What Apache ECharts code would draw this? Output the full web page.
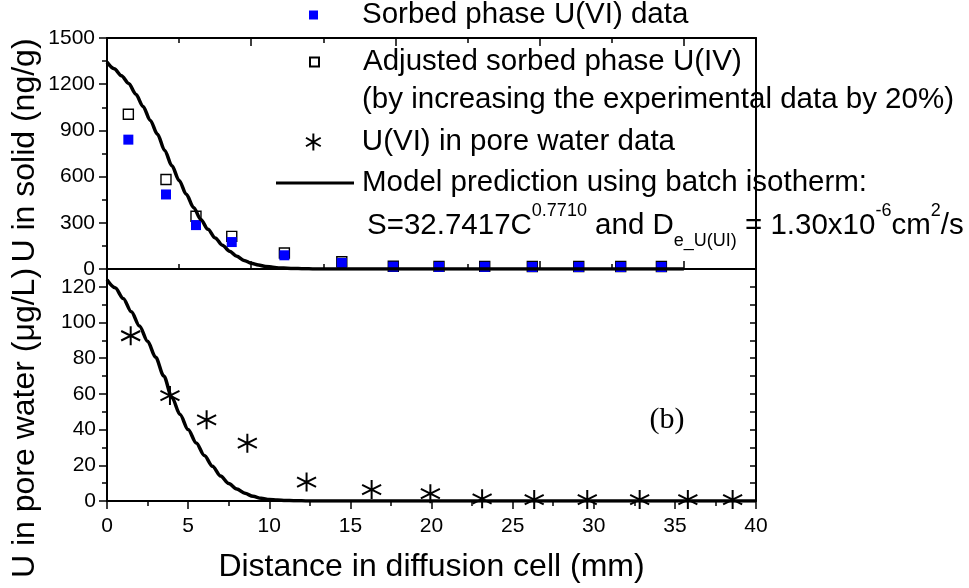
<!DOCTYPE html>
<html>
<head>
<meta charset="utf-8">
<title>U profile in diffusion cell</title>
<script src="https://cdn.jsdelivr.net/npm/echarts/dist/echarts.min.js"></script>
<style>
    html, body { margin: 0; padding: 0; background: #fff; }
    #chart { width: 969px; height: 588px; }
</style>
</head>
<body>
<div id="chart"></div>
<script>
// 固相数据 (上图, 横坐标 mm)
var sorbedX = [1.48, 4.09, 6.17, 8.65, 12.30, 16.28, 19.85, 23.02, 26.19, 29.49, 32.71, 35.62, 38.44];
var sorbedU = [840, 484, 285, 175, 89, 39, 15, 14, 14, 13, 13, 13, 13];
var adjustedU = [1005, 581, 343, 212, 104, 47, 18, 17, 17, 16, 16, 16, 16];

// 孔隙水数据 (下图)
var poreX = [1.46, 3.88, 6.14, 8.65, 12.3, 16.31, 19.93, 23.12, 26.33, 29.6, 32.83, 35.8, 38.56];
var poreU = [92.6, 59.1, 45.5, 32.4, 10.6, 6.4, 4.1, 1.2, 0.8, 0.8, 0.8, 0.8, 0.8];

// 模型曲线
var modelX = [0, 0.5, 1, 1.5, 2, 2.5, 3, 3.5, 4, 4.5, 5, 5.5, 6, 6.5, 7, 7.5, 8, 8.5, 9, 9.5,
    10, 10.5, 11, 11.5, 12, 12.5, 13, 13.5, 14, 14.5, 15, 20, 25, 30, 35, 40];
var modelSolid = [1343, 1300, 1255, 1205, 1135, 1055, 965, 875, 770, 670, 575, 485, 400, 322, 258, 202, 155, 115, 82, 56,
    38, 26, 17, 11, 7, 5, 3, 2, 1, 0.5, 0, 0, 0, 0, 0, 0];
var modelPore = [124, 119.5, 113.5, 106, 98, 89.5, 80.5, 70, 58, 48.5, 40, 32.5, 25.5, 19.5, 14, 9.8, 6.7, 4.3, 2.6, 1.5,
    0.8, 0.5, 0.3, 0.2, 0.1, 0, 0, 0, 0, 0, 0, 0, 0, 0, 0, 0];

// 刻度
var solidTicks = [0, 300, 600, 900, 1200, 1500];
var poreTicks = [0, 20, 40, 60, 80, 100, 120];
var distTicks = [0, 5, 10, 15, 20, 25, 30, 35, 40];

var FONT = 'Liberation Sans, Arial, sans-serif';
var asteriskPath = 'path://M0,-10L0,10M-8.66,-5L8.66,5M-8.66,5L8.66,-5';

function pairs(xs, ys) {
    var out = [];
    for (var i = 0; i < xs.length; i++) {
        out.push([xs[i], ys[i]]);
    }
    return out;
}

// 不要千位分隔符
function plainLabel(ticks) {
    return function (v) {
        return ticks.indexOf(v) >= 0 ? String(v) : '';
    };
}

var blackLine = { color: '#000', width: 2 };
var tickLine = { color: '#000', width: 1.5 };

function chartRender() {
    var chart = echarts.init(document.getElementById('chart'));

    var option = {
        animation: false,
        backgroundColor: '#fff',
        textStyle: { fontFamily: FONT, color: '#000' },
        grid: [
            { left: 107, top: 38, width: 649, height: 231 },
            { left: 107, top: 269, width: 649, height: 232 }
        ],
        xAxis: [
            // 上图 底边
            {
                gridIndex: 0, type: 'value', min: 0, max: 45, interval: 10, position: 'bottom',
                axisLine: { onZero: false, lineStyle: blackLine },
                axisTick: { inside: true, length: 8, lineStyle: tickLine },
                minorTick: { show: true, splitNumber: 2, length: 5, lineStyle: tickLine },
                axisLabel: { show: false },
                splitLine: { show: false }
            },
            // 上图 顶边
            {
                gridIndex: 0, type: 'value', min: 0, max: 45, interval: 10, position: 'top',
                axisLine: { onZero: false, lineStyle: blackLine },
                axisTick: { inside: true, length: 8, lineStyle: tickLine },
                minorTick: { show: true, splitNumber: 2, length: 5, lineStyle: tickLine },
                axisLabel: { show: false },
                splitLine: { show: false }
            },
            // 下图 底边
            {
                gridIndex: 1, type: 'value', min: distTicks[0], max: distTicks[distTicks.length - 1], interval: 5,
                position: 'bottom',
                name: 'Distance in diffusion cell (mm)',
                nameLocation: 'middle',
                nameGap: 50,
                nameMoveOverlap: false,
                nameTextStyle: { fontSize: 32, color: '#000', fontFamily: FONT },
                axisLine: { onZero: false, lineStyle: blackLine },
                axisTick: { inside: false, length: 8, lineStyle: tickLine },
                minorTick: { show: true, splitNumber: 2, length: 5, lineStyle: tickLine },
                axisLabel: { fontSize: 21, color: '#000', margin: 15, fontFamily: FONT, formatter: plainLabel(distTicks) },
                splitLine: { show: false }
            },
            // 下图 顶边
            {
                gridIndex: 1, type: 'value', min: 0, max: 40, position: 'top',
                axisLine: { onZero: false, lineStyle: blackLine },
                axisTick: { show: false },
                axisLabel: { show: false },
                splitLine: { show: false }
            }
        ],
        yAxis: [
            {
                gridIndex: 0, type: 'value', min: solidTicks[0], max: solidTicks[solidTicks.length - 1], interval: 300,
                position: 'left',
                name: 'U in solid (ng/g)',
                nameLocation: 'middle',
                nameGap: 66,
                nameMoveOverlap: false,
                nameTextStyle: { fontSize: 32, color: '#000', fontFamily: FONT, padding: [0, 0, 0, 6] },
                axisLine: { onZero: false, lineStyle: blackLine },
                axisTick: { inside: false, length: 8, lineStyle: tickLine },
                minorTick: { show: true, splitNumber: 2, length: 5, lineStyle: tickLine },
                axisLabel: { fontSize: 21, color: '#000', margin: 12, fontFamily: FONT, formatter: plainLabel(solidTicks) },
                splitLine: { show: false }
            },
            {
                gridIndex: 0, type: 'value', min: 0, max: 1500, position: 'right',
                axisLine: { onZero: false, lineStyle: blackLine },
                axisTick: { show: false },
                axisLabel: { show: false },
                splitLine: { show: false }
            },
            {
                gridIndex: 1, type: 'value', min: poreTicks[0], max: 130, interval: 20,
                position: 'left',
                name: 'U in pore water (\u03bcg/L)',
                nameLocation: 'middle',
                nameGap: 66,
                nameMoveOverlap: false,
                nameTextStyle: { fontSize: 32, color: '#000', fontFamily: FONT, padding: [0, 76, 0, 0] },
                axisLine: { onZero: false, lineStyle: blackLine },
                axisTick: { inside: false, length: 8, lineStyle: tickLine },
                minorTick: { show: true, splitNumber: 2, length: 5, lineStyle: tickLine },
                axisLabel: {
                    fontSize: 21, color: '#000', margin: 11, fontFamily: FONT, showMaxLabel: false,
                    formatter: plainLabel(poreTicks)
                },
                splitLine: { show: false }
            },
            {
                gridIndex: 1, type: 'value', min: 0, max: 130, interval: 10, position: 'right',
                axisLine: { onZero: false, lineStyle: blackLine },
                axisTick: { inside: true, length: 6, lineStyle: tickLine },
                axisLabel: { show: false },
                splitLine: { show: false }
            }
        ],
        legend: [
            {
                data: [{ name: 'Sorbed phase U(VI) data', icon: 'rect' }],
                left: 309, top: 0, itemWidth: 9, itemHeight: 9, padding: 0, selectedMode: false,
                textStyle: { fontSize: 29.5, color: '#000', fontFamily: FONT, padding: [0, 0, 0, 39] }
            },
            {
                data: [{ name: 'Adjusted sorbed phase U(IV)', icon: 'rect' }],
                left: 309, top: 47, itemWidth: 9, itemHeight: 9, padding: 0, selectedMode: false,
                textStyle: { fontSize: 29.5, color: '#000', fontFamily: FONT, padding: [0, 0, 0, 39] }
            },
            {
                data: [{ name: 'U(VI) in pore water data', icon: asteriskPath }],
                left: 305, top: 127, itemWidth: 17, itemHeight: 17, padding: 0, selectedMode: false,
                textStyle: { fontSize: 29.5, color: '#000', fontFamily: FONT, padding: [0, 0, 0, 35] }
            },
            {
                data: [{ name: 'Model prediction using batch isotherm:', icon: 'rect' }],
                left: 276, top: 168, itemWidth: 78, itemHeight: 3, padding: 0, selectedMode: false,
                textStyle: { fontSize: 29.5, color: '#000', fontFamily: FONT, padding: [0, 0, 0, 3] }
            }
        ],
        graphic: [
            {
                type: 'text', x: 362, y: 100, z: 10,
                style: {
                    text: '(by increasing the experimental data by 20%)',
                    fontSize: 29.5, fontFamily: FONT, fill: '#000', verticalAlign: 'middle'
                }
            },
            {
                type: 'text', x: 367, y: 226, z: 10,
                style: {
                    text: '{b|S=32.7417C}{p|0.7710}{b| and D}{s|e_U(UI)}{b| = 1.30x10}{p|-6}{b|cm}{p|2}{b|/s}',
                    verticalAlign: 'middle',
                    fill: '#000',
                    rich: {
                        b: { fontSize: 29.5, lineHeight: 48, verticalAlign: 'middle', fontFamily: FONT, fill: '#000' },
                        p: { fontSize: 18, lineHeight: 16, verticalAlign: 'top', fontFamily: FONT, fill: '#000' },
                        s: { fontSize: 18, lineHeight: 18, verticalAlign: 'bottom', fontFamily: FONT, fill: '#000' }
                    }
                }
            },
            {
                type: 'text', x: 667, y: 420, z: 10,
                style: {
                    text: '(b)', fontSize: 30, fontFamily: 'Liberation Serif, Times New Roman, serif',
                    fill: '#000', align: 'center', verticalAlign: 'middle'
                }
            }
        ],
        series: [
            {
                name: 'Adjusted sorbed phase U(IV)',
                type: 'scatter', xAxisIndex: 0, yAxisIndex: 0,
                symbol: 'rect', symbolSize: 10,
                itemStyle: { color: '#fff', borderColor: '#000', borderWidth: 1.4, opacity: 1 },
                data: pairs(sorbedX, adjustedU)
            },
            {
                name: 'Sorbed phase U(VI) data',
                type: 'scatter', xAxisIndex: 0, yAxisIndex: 0,
                symbol: 'rect', symbolSize: 10,
                itemStyle: { color: '#0000ff', opacity: 1 },
                data: pairs(sorbedX, sorbedU)
            },
            {
                name: 'Model prediction using batch isotherm:',
                type: 'line', xAxisIndex: 0, yAxisIndex: 0,
                showSymbol: false, smooth: 0.3, smoothMonotone: 'x',
                color: '#000',
                lineStyle: { color: '#000', width: 3.5 },
                data: pairs(modelX, modelSolid)
            },
            {
                name: 'U(VI) in pore water data',
                type: 'scatter', xAxisIndex: 2, yAxisIndex: 2,
                symbol: asteriskPath, symbolSize: 19,
                itemStyle: { color: 'transparent', borderColor: '#000', borderWidth: 2, opacity: 1 },
                data: pairs(poreX, poreU)
            },
            {
                name: 'Model prediction using batch isotherm:',
                type: 'line', xAxisIndex: 2, yAxisIndex: 2,
                showSymbol: false, smooth: 0.3, smoothMonotone: 'x',
                color: '#000',
                lineStyle: { color: '#000', width: 3.5 },
                data: pairs(modelX, modelPore)
            }
        ]
    };

    chart.setOption(option);
}

chartRender();
</script>
</body>
</html>
